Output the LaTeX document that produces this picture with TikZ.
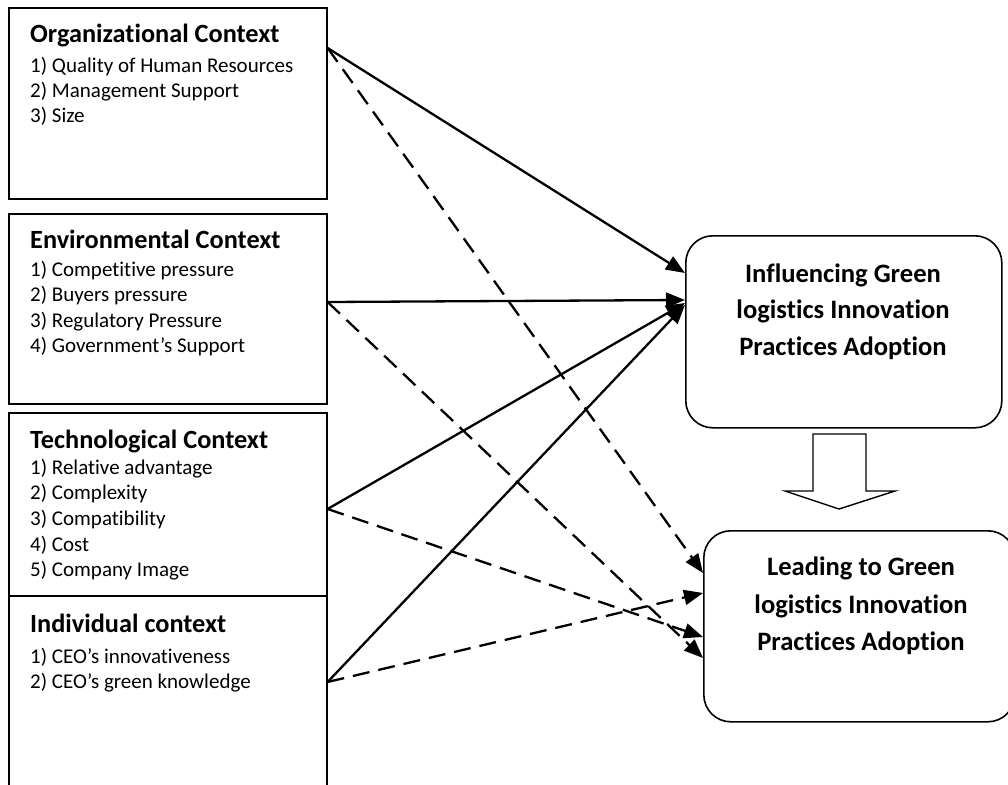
\documentclass[tikz,border=0pt]{standalone}
\usepackage{fontspec}
\setmainfont{Carlito}[Ligatures=NoCommon]
\usetikzlibrary{arrows.meta}
\tikzset{
  ctxbox/.style={draw=black, line width=1.6pt, fill=white, rectangle, anchor=north west, inner sep=0pt},
  outbox/.style={draw=black, line width=1.6pt, fill=white, rectangle, rounded corners=27pt, anchor=north west, inner sep=0pt},
  ttl/.style={anchor=base west, inner sep=0pt, font=\bfseries\fontsize{26.3}{30}\selectfont},
  itm/.style={anchor=base west, inner sep=0pt, font=\fontsize{21}{25}\selectfont},
  outtxt/.style={anchor=base, inner sep=0pt, font=\bfseries\fontsize{26.6}{31}\selectfont},
  sol/.style={line width=2.3pt, -{Triangle[length=19pt,width=15pt]}},
  dsh/.style={line width=2.3pt, dash pattern=on 17pt off 9pt, -{Triangle[length=19pt,width=15pt]}},
  blockarrow/.style={draw=black, line width=1.4pt, fill=white, line join=miter}
}
\begin{document}
\begin{tikzpicture}[x=1pt,y=-1pt]
\useasboundingbox (0,0) rectangle (1008,784);
\clip (0,0) rectangle (1008,784);
\fill[white] (0,0) rectangle (1008,784);

% left boxes
\node[ctxbox, minimum width=318pt, minimum height=191pt] (org) at (8,7) {};
\node[ctxbox, minimum width=318pt, minimum height=190pt] (env) at (8,213) {};
\node[ctxbox, minimum width=318pt, minimum height=183pt] (tech) at (8,412) {};
\node[ctxbox, minimum width=318pt, minimum height=215pt] (indv) at (8,595) {};

% right boxes
\node[outbox, minimum width=316pt, minimum height=192pt] (infl) at (685,235) {};
\node[outbox, minimum width=311pt, minimum height=191pt] (lead) at (703,530) {};

% texts
\node[ttl] (orgT) at (30,43) {Organizational Context};
\foreach \t [count=\i from 0] in {1) Quality of Human Resources, 2) Management Support, 3) Size}
  \node[itm] (orgI\i) at (30,{72+25*\i}) {\t};

\node[ttl] (envT) at (30,248) {Environmental Context};
\foreach \t [count=\i from 0] in {1) Competitive pressure, 2) Buyers pressure, 3) Regulatory Pressure, 4) Government’s Support}
  \node[itm] (envI\i) at (30,{276+25.5*\i}) {\t};

\node[ttl] (techT) at (30,448) {Technological Context};
\foreach \t [count=\i from 0] in {1) Relative advantage, 2) Complexity, 3) Compatibility, 4) Cost, 5) Company Image}
  \node[itm] (techI\i) at (30,{474+25.7*\i}) {\t};

\node[ttl] (indvT) at (30,632) {Individual context};
\foreach \t [count=\i from 0] in {1) CEO’s innovativeness, 2) CEO’s green knowledge}
  \node[itm] (indvI\i) at (30,{663+25*\i}) {\t};

\node[outtxt] (inflA) at (843,282) {Influencing Green};
\node[outtxt] (inflB) at (843,318) {logistics Innovation};
\node[outtxt] (inflC) at (843,355) {Practices Adoption};

\node[outtxt] (leadA) at (861,575) {Leading to Green};
\node[outtxt] (leadB) at (861,613) {logistics Innovation};
\node[outtxt] (leadC) at (861,650) {Practices Adoption};

% connector end points on box borders
\coordinate (oS) at ([yshift=-41pt]org.north east);
\coordinate (eS) at ([yshift=-89pt]env.north east);
\coordinate (tS) at ([yshift=-97pt]tech.north east);
\coordinate (iS) at ([yshift=-87pt]indv.north east);

\coordinate (fO) at ([yshift=-38pt]infl.north west);
\coordinate (fE) at ([yshift=-65pt]infl.north west);
\coordinate (fT) at ([yshift=-68pt]infl.north west);
\coordinate (fI) at ([yshift=-70pt]infl.north west);

\coordinate (lO) at ([yshift=-43pt]lead.north west);
\coordinate (lI) at ([yshift=-63pt]lead.north west);
\coordinate (lT) at ([yshift=-107pt]lead.north west);
\coordinate (lE) at ([yshift=-128pt]lead.north west);

% solid arrows
\draw[sol] (oS) -- (fO);
\draw[sol] (eS) -- (fE);
\draw[sol] (tS) -- (fT);
\draw[sol] (iS) -- (fI);

% dashed arrows
\draw[dsh] (oS) -- (lO);
\draw[dsh] (eS) -- (lE);
\draw[dsh] (tS) -- (lT);
\draw[dsh] (iS) -- (lI);

% block arrow between the outcome boxes
\draw[blockarrow] (813,434) -- (866,434) -- (866,491) -- (895,491) -- (839,509) -- (785,491) -- (813,491) -- cycle;
\end{tikzpicture}
\end{document}
